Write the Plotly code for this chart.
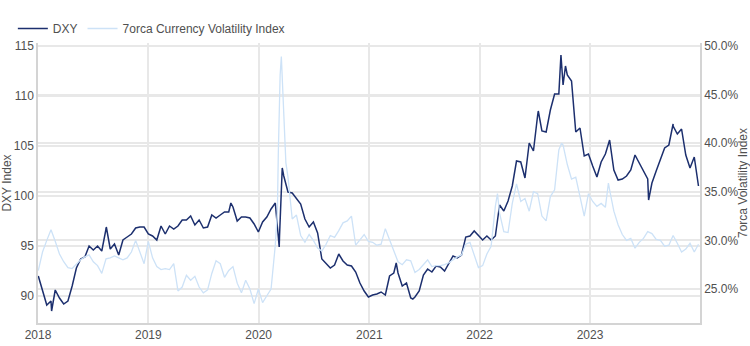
import pandas as pd
import plotly.graph_objects as go

# Biweekly observation dates (every 14 days from 2018-01-02)
grid_dates = pd.date_range("2018-01-02", periods=157, freq="14D")

dxy_values = [
    # 2018
    92.0, 90.5, 89.1, 89.5, 90.6, 89.8, 89.2, 89.5, 91.0, 92.8, 93.7, 93.9, 95.0,
    94.6, 95.0, 94.5, 96.7, 94.7, 95.2, 94.1, 95.6, 95.9, 96.2, 96.8, 96.9, 96.9,
    # 2019
    96.2, 96.0, 95.6, 97.0, 96.2, 97.0, 96.7, 97.0, 97.6, 97.6, 98.0, 97.1, 97.6,
    96.8, 96.9, 98.1, 97.8, 98.1, 98.4, 98.4, 98.9, 97.5, 97.9, 97.9, 97.8, 97.2,
    # 2020
    96.4, 97.4, 97.9, 98.7, 99.3, 96.0, 102.0, 100.4, 100.3, 99.7, 99.2, 97.7, 96.9,
    97.4, 96.3, 93.7, 93.3, 92.8, 93.1, 94.2, 93.5, 93.1, 93.0, 92.4, 91.3, 90.5,
    # 2021
    89.9, 90.1, 90.2, 90.4, 90.1, 92.0, 92.3, 92.3, 91.0, 91.3, 89.8, 89.9, 90.5,
    92.1, 92.7, 92.4, 93.0, 92.9, 92.5, 93.2, 94.0, 93.8, 94.1, 95.9, 96.0, 96.5,
    # 2022
    96.1, 95.6, 96.0, 95.6, 96.0, 99.1, 98.5, 99.5, 101.0, 103.5, 103.4, 101.8, 105.3,
    104.5, 108.1, 106.5, 106.4, 108.6, 110.2, 110.2, 111.1, 112.1, 111.5, 106.4, 106.8, 104.0,
    # 2023
    104.2, 103.0, 101.9, 103.4, 104.2, 105.6, 102.6, 101.6, 101.7, 102.0, 102.6, 104.1, 103.3,
    102.5, 101.7, 101.3, 102.5, 103.6, 104.8, 105.1, 107.0, 106.2, 106.7, 104.1, 102.8, 103.9,
    101.0,
]
dxy_extra_dates = ["2018-02-15", "2018-08-15", "2019-10-01", "2020-03-09", "2020-03-19",
                   "2021-03-31", "2021-05-25", "2022-07-14", "2022-09-27", "2022-10-12",
                   "2023-07-14", "2023-10-03"]
dxy_extra_values = [88.5, 96.9, 99.3, 94.9, 102.8, 93.3, 89.7, 108.5, 114.1, 113.0, 99.6, 107.2]

vol_values = [
    # 2018
    26.9, 28.8, 30.0, 31.1, 29.9, 28.6, 27.8, 27.2, 27.1, 27.6, 28.0, 28.3, 28.5,
    27.8, 27.4, 26.6, 28.1, 28.2, 28.4, 28.2, 28.0, 28.2, 28.8, 30.0, 28.8, 27.6,
    # 2019
    29.9, 28.2, 27.3, 27.0, 27.1, 27.0, 27.6, 24.8, 25.2, 26.4, 25.9, 26.3, 25.2,
    24.6, 24.9, 26.6, 27.9, 27.6, 26.2, 26.9, 27.3, 25.6, 24.6, 25.9, 25.0, 23.5,
    # 2020
    25.0, 23.6, 24.3, 25.0, 29.5, 45.5, 42.0, 36.5, 32.2, 32.6, 30.5, 29.8, 30.6,
    30.0, 29.2, 28.9, 29.6, 30.5, 30.3, 31.0, 31.8, 32.0, 32.5, 29.5, 30.0, 30.6,
    # 2021
    29.9, 29.8, 29.5, 29.6, 31.2, 30.0, 29.0, 27.8, 27.5, 28.0, 27.9, 26.7, 27.0,
    27.5, 28.0, 27.3, 27.4, 27.4, 27.5, 27.7, 28.0, 28.3, 28.5, 29.6, 29.8, 28.6,
    # 2022
    27.2, 27.4, 28.6, 29.4, 33.5, 32.8, 30.9, 30.8, 33.8, 35.8, 34.0, 34.3, 33.0,
    35.0, 34.8, 32.5, 32.0, 34.5, 35.2, 39.3, 39.8, 37.8, 36.3, 36.5, 34.5, 32.5,
    # 2023
    34.8, 34.0, 33.5, 33.8, 33.4, 35.2, 33.0, 31.6, 30.6, 30.0, 30.2, 29.2, 29.8,
    30.2, 30.9, 30.7, 30.1, 30.0, 29.4, 29.5, 30.5, 29.7, 28.8, 29.1, 29.7, 28.8,
    29.6,
]
vol_extra_dates = ["2020-03-03", "2020-03-06", "2020-03-12", "2020-03-16", "2020-03-18",
                   "2020-03-20", "2020-03-27", "2020-03-31", "2022-03-01", "2022-09-29",
                   "2023-03-03"]
vol_extra_values = [33.0, 39.0, 47.0, 48.9, 47.5, 44.5, 40.0, 38.0, 34.8, 40.0, 35.9]


def build(values, extra_dates, extra_values):
    s = pd.Series(values, index=grid_dates)
    e = pd.Series(extra_values, index=pd.to_datetime(extra_dates))
    return pd.concat([s, e]).sort_index()


dxy = build(dxy_values, dxy_extra_dates, dxy_extra_values)
vol = build(vol_values, vol_extra_dates, vol_extra_values) / 100.0

FONT = "Liberation Sans, Arial, sans-serif"
GRID = "#e8e8e8"
TXT = "#505050"

fig = go.Figure()
fig.add_trace(go.Scatter(x=dxy.index, y=dxy.values, name="DXY", mode="lines",
                         line=dict(color="#1c2f6e", width=1.5), yaxis="y"))
fig.add_trace(go.Scatter(x=vol.index, y=vol.values, name="7orca Currency Volatility Index",
                         mode="lines", line=dict(color="#cde2f7", width=1.3), yaxis="y2"))

fig.update_layout(
    width=750, height=346,
    margin=dict(l=38, r=50, t=43, b=23, autoexpand=False),
    paper_bgcolor="white", plot_bgcolor="white",
    font=dict(family=FONT, size=12, color=TXT),
    showlegend=True,
    legend=dict(orientation="h", x=-0.038, y=1.0, xanchor="left", yanchor="bottom",
                font=dict(size=12, color=TXT), itemwidth=30,
                bgcolor="rgba(0,0,0,0)", tracegroupgap=0),
    xaxis=dict(type="date", range=["2018-01-01", "2023-12-31"], dtick="M12",
               tickformat="%Y", showgrid=True, gridcolor=GRID, gridwidth=1.5,
               showline=True, linecolor="#d4d4d4", linewidth=1.5, ticks="",
               zeroline=False, automargin=False, tickfont=dict(size=12, color=TXT)),
    yaxis=dict(title=dict(text="DXY Index", font=dict(size=12, color=TXT), standoff=6),
               range=[87.3, 115.3], tick0=90, dtick=5, showgrid=True,
               gridcolor=GRID, gridwidth=1.5, showline=True, linecolor="#d4d4d4",
               linewidth=1.5, zeroline=False, ticks="", automargin=False,
               tickfont=dict(size=12, color=TXT)),
    yaxis2=dict(title=dict(text="7orca Volatility Index", font=dict(size=12, color=TXT),
                           standoff=6),
                overlaying="y", side="right", range=[0.215, 0.503], tick0=0.25,
                dtick=0.05, tickformat=".1%", showgrid=True, gridcolor=GRID, gridwidth=1.5,
                showline=True, linecolor="#d4d4d4", linewidth=1.5, zeroline=False,
                ticks="", automargin=False, tickfont=dict(size=12, color=TXT)),
)

fig.write_html("out.html")
